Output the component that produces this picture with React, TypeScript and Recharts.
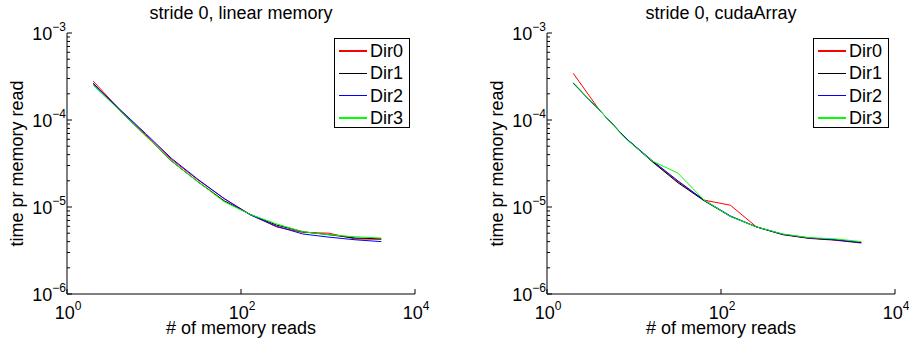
import React from 'react';
import { LineChart, Line, XAxis, YAxis, Legend } from 'recharts';

// number of memory reads (x), powers of two
const reads = [2, 4, 8, 16, 32, 64, 128, 256, 512, 1024, 2048, 4096];

// stride 0, linear memory
const linearDir0 = [2.8e-4, 1.33e-4, 6.8e-5, 3.5e-5, 2.05e-5, 1.25e-5, 8.2e-6, 5.9e-6, 5.1e-6, 5.0e-6, 4.3e-6, 4.25e-6];
const linearDir1 = [2.65e-4, 1.3e-4, 6.6e-5, 3.35e-5, 1.95e-5, 1.18e-5, 8.2e-6, 6.2e-6, 5.2e-6, 4.8e-6, 4.4e-6, 4.3e-6];
const linearDir2 = [2.6e-4, 1.34e-4, 7.0e-5, 3.6e-5, 2.08e-5, 1.25e-5, 8.1e-6, 6.0e-6, 4.9e-6, 4.5e-6, 4.2e-6, 4.0e-6];
const linearDir3 = [2.5e-4, 1.3e-4, 6.6e-5, 3.35e-5, 1.95e-5, 1.15e-5, 8.2e-6, 6.4e-6, 5.2e-6, 4.8e-6, 4.55e-6, 4.4e-6];

// stride 0, cudaArray
const cudaDir0 = [3.45e-4, 1.3e-4, 6.2e-5, 3.4e-5, 1.95e-5, 1.2e-5, 1.05e-5, 5.9e-6, 4.8e-6, 4.35e-6, 4.15e-6, 3.85e-6];
const cudaDir1 = [2.65e-4, 1.3e-4, 6.2e-5, 3.35e-5, 1.9e-5, 1.18e-5, 7.8e-6, 5.9e-6, 4.85e-6, 4.4e-6, 4.2e-6, 3.9e-6];
const cudaDir2 = [2.65e-4, 1.3e-4, 6.2e-5, 3.45e-5, 2.0e-5, 1.2e-5, 7.9e-6, 5.9e-6, 4.85e-6, 4.4e-6, 4.2e-6, 3.9e-6];
const cudaDir3 = [2.7e-4, 1.3e-4, 6.1e-5, 3.4e-5, 2.45e-5, 1.2e-5, 7.8e-6, 5.9e-6, 4.9e-6, 4.45e-6, 4.3e-6, 4.0e-6];

const seriesNames = ['Dir0', 'Dir1', 'Dir2', 'Dir3'];
const seriesColors = ['#ff0000', '#000000', '#0000ff', '#00ff00'];

const xTicks = [1, 100, 10000];
const yMajorTicks = [1e-6, 1e-5, 1e-4, 1e-3];
const yMinorSteps = [2, 3, 4, 5, 6, 7, 8, 9];
const yTicks = [
  ...yMajorTicks,
  ...yMajorTicks.slice(0, -1).flatMap((d) => yMinorSteps.map((m) => m * d)),
];

const FONT = '"Liberation Sans", Arial, Helvetica, sans-serif';

const makeRows = (cols: number[][]) =>
  reads.map((r, i) => ({
    reads: r,
    Dir0: cols[0][i],
    Dir1: cols[1][i],
    Dir2: cols[2][i],
    Dir3: cols[3][i],
  }));

const exponent = (v: number) => Math.round(Math.log10(v));
const isMajor = (v: number) => Math.abs(Math.log10(v) - exponent(v)) < 1e-6;

const PowerLabel = ({ x, y, v, anchor }: any) => {
  const e = exponent(v);
  return (
    <text x={x} y={y} textAnchor={anchor} fill="#000" style={{ fontFamily: FONT, fontSize: '18px' }}>
      10
      <tspan dy={-9} style={{ fontSize: '12px' }}>
        {e < 0 ? '\u2212' + -e : String(e)}
      </tspan>
    </text>
  );
};

const LeftTick = ({ x, y, payload }: any) => {
  const major = isMajor(payload.value);
  return (
    <g>
      <line x1={x} x2={x + (major ? 5 : 3)} y1={y} y2={y} stroke="#000" />
      {major && <PowerLabel x={x - 1} y={y + 7} v={payload.value} anchor="end" />}
    </g>
  );
};

const RightTick = ({ x, y, payload }: any) => {
  const major = isMajor(payload.value);
  return <line x1={x} x2={x - (major ? 5 : 3)} y1={y} y2={y} stroke="#000" />;
};

const BottomTick = ({ x, y, payload }: any) => (
  <g>
    <line x1={x} x2={x} y1={y} y2={y - 5} stroke="#000" />
    <PowerLabel x={x + 1} y={y + 25} v={payload.value} anchor="middle" />
  </g>
);

const TopTick = ({ x, y }: any) => <line x1={x} x2={x} y1={y} y2={y + 5} stroke="#000" />;

const LegendBox = () => (
  <div
    style={{
      boxSizing: 'border-box',
      width: 76,
      height: 90,
      border: '1.5px solid #000',
      background: '#fff',
      paddingTop: 1,
      fontFamily: FONT,
      fontSize: 18,
    }}
  >
    {seriesNames.map((name, i) => (
      <div key={name} style={{ display: 'flex', alignItems: 'center', height: 22.3 }}>
        <div style={{ width: 28, height: 1.5, background: seriesColors[i], marginLeft: 4, marginRight: 3 }} />
        <span style={{ lineHeight: '22px' }}>{name}</span>
      </div>
    ))}
  </div>
);

type PanelProps = {
  rows: any[];
  left: number;
  width: number;
  marginRight: number;
  legendLeft: number;
};

const PLOT_LEFT = 67;
const PLOT_TOP = 33;
const X_AXIS_H = 48;
const HEIGHT = 342;

const Panel = ({ rows, left, width, marginRight, legendLeft }: PanelProps) => (
  <div style={{ position: 'absolute', left, top: 0 }}>
    <LineChart
      width={width}
      height={HEIGHT}
      data={rows}
      margin={{ top: PLOT_TOP, right: marginRight, bottom: 0, left: 0 }}
      style={{ fontFamily: FONT }}
    >
      <XAxis
        xAxisId="b"
        dataKey="reads"
        type="number"
        scale="log"
        domain={[1, 10000]}
        allowDataOverflow
        ticks={xTicks}
        interval={0}
        height={X_AXIS_H}
        tickSize={0}
        tickMargin={0}
        tickLine={false}
        axisLine={{ stroke: '#000' }}
        tick={<BottomTick />}
      />
      <XAxis
        xAxisId="t"
        orientation="top"
        dataKey="reads"
        type="number"
        scale="log"
        domain={[1, 10000]}
        allowDataOverflow
        ticks={[100]}
        interval={0}
        height={0}
        tickSize={0}
        tickMargin={0}
        tickLine={false}
        axisLine={{ stroke: '#000' }}
        tick={<TopTick />}
      />
      <YAxis
        yAxisId="l"
        type="number"
        scale="log"
        domain={[1e-6, 1e-3]}
        allowDataOverflow
        ticks={yTicks}
        interval={0}
        width={PLOT_LEFT}
        tickSize={0}
        tickMargin={0}
        tickLine={false}
        axisLine={{ stroke: '#000' }}
        tick={<LeftTick />}
      />
      <YAxis
        yAxisId="r"
        orientation="right"
        type="number"
        scale="log"
        domain={[1e-6, 1e-3]}
        allowDataOverflow
        ticks={yTicks}
        interval={0}
        width={0}
        tickSize={0}
        tickMargin={0}
        tickLine={false}
        axisLine={{ stroke: '#000' }}
        tick={<RightTick />}
      />
      {seriesNames.map((name, i) => (
        <Line
          key={name}
          xAxisId="b"
          yAxisId="l"
          type="linear"
          dataKey={name}
          name={name}
          stroke={seriesColors[i]}
          strokeWidth={1}
          dot={false}
          activeDot={false}
          isAnimationActive={false}
        />
      ))}
      <Legend
        layout="vertical"
        align="center"
        verticalAlign="middle"
        content={<LegendBox />}
        wrapperStyle={{ left: legendLeft, top: 38, width: 76, height: 90 }}
      />
    </LineChart>
  </div>
);

const labelStyle = { fontFamily: FONT, fontSize: '18px' };

const Labels = () => (
  <svg width={909} height={342} style={{ position: 'absolute', left: 0, top: 0 }}>
    <g style={labelStyle} fill="#000">
      <text x={241} y={18.5} textAnchor="middle">stride 0, linear memory</text>
      <text x={241} y={333.5} textAnchor="middle"># of memory reads</text>
      <text transform="translate(23,163.5) rotate(-90)" textAnchor="middle">time pr memory read</text>
      <text x={721} y={18.5} textAnchor="middle">stride 0, cudaArray</text>
      <text x={721} y={333.5} textAnchor="middle"># of memory reads</text>
      <text transform="translate(503,163.5) rotate(-90)" textAnchor="middle">time pr memory read</text>
    </g>
  </svg>
);

export default function App() {
  const linearRows = makeRows([linearDir0, linearDir1, linearDir2, linearDir3]);
  const cudaRows = makeRows([cudaDir0, cudaDir1, cudaDir2, cudaDir3]);
  return (
    <div style={{ position: 'absolute', left: 0, top: 0, width: 909, height: 342, background: '#fff', overflow: 'hidden' }}>
      <Labels />
      <Panel rows={linearRows} left={0} width={450} marginRight={35} legendLeft={334} />
      <Panel rows={cudaRows} left={480} width={429} marginRight={14} legendLeft={333} />
    </div>
  );
}
